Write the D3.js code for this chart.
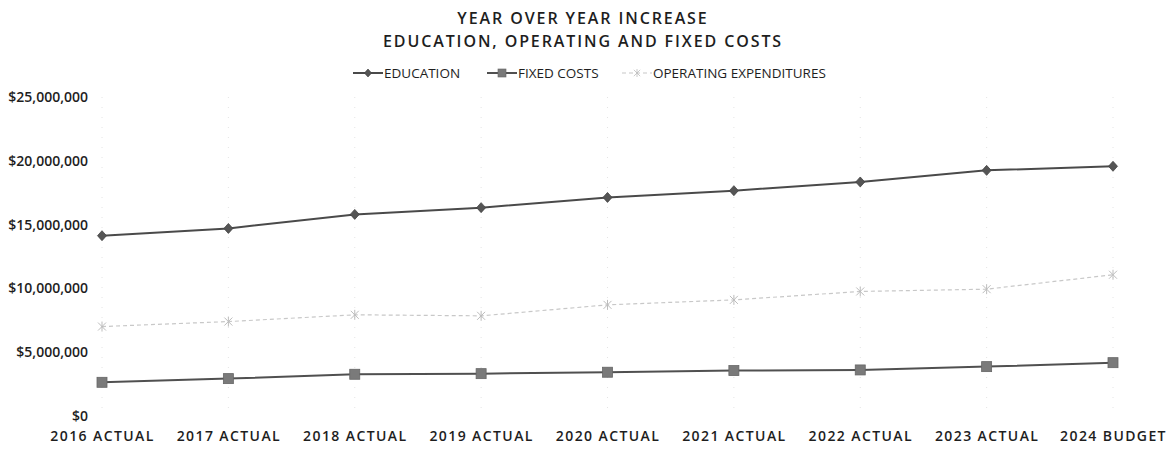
<!DOCTYPE html>
<html>
<head>
<meta charset="utf-8">
<script src="https://cdn.jsdelivr.net/npm/d3@7"></script>
<style>
  html, body { margin: 0; padding: 0; background: #fff; }
  svg { display: block; }
  text { font-family: "Open Sans", "Noto Sans", sans-serif; }
</style>
</head>
<body>
<svg id="chart" width="1173" height="449"></svg>
<script>
// Year labels along the bottom
const categories = ["2016 ACTUAL", "2017 ACTUAL", "2018 ACTUAL", "2019 ACTUAL", "2020 ACTUAL",
                    "2021 ACTUAL", "2022 ACTUAL", "2023 ACTUAL", "2024 BUDGET"];

// Spending per year, in dollars
const education = [14130000, 14700000, 15800000, 16330000, 17130000, 17660000, 18340000, 19250000, 19570000];
const fixedCosts = [2640000, 2930000, 3270000, 3320000, 3430000, 3560000, 3610000, 3870000, 4180000];
const operatingExpenditures = [7010000, 7400000, 7930000, 7850000, 8710000, 9100000, 9760000, 9940000, 11070000];

// Value axis ticks
const yTicks = [0, 5000000, 10000000, 15000000, 20000000, 25000000];

const titleLines = ["YEAR OVER YEAR INCREASE", "EDUCATION, OPERATING AND FIXED COSTS"];

const svg = d3.select("#chart");

const x = d3.scalePoint().domain(categories).range([102, 1113]);
const y = d3.scaleLinear().domain([0, 25000000]).range([416, 97]);

const fmt = v => "$" + d3.format(",")(v);

// Title
svg.append("g").selectAll("text")
  .data(titleLines)
  .join("text")
  .attr("x", 583)
  .attr("y", (d, i) => 24 + i * 22.5)
  .attr("text-anchor", "middle")
  .attr("font-size", 16)
  .attr("font-weight", 600)
  .attr("letter-spacing", 1.9)
  .attr("fill", "#1e1e1e")
  .text(d => d);

// Faint vertical guides at each category
svg.append("g").selectAll("line")
  .data(categories)
  .join("line")
  .attr("x1", d => x(d)).attr("x2", d => x(d))
  .attr("y1", 97).attr("y2", 416)
  .attr("stroke", "#e4e4e4")
  .attr("stroke-width", 1)
  .attr("stroke-dasharray", "1,9");

// Y axis labels
const yAxis = d3.axisLeft(y).tickValues(yTicks).tickFormat(fmt).tickSize(0).tickPadding(0);
const gy = svg.append("g").attr("transform", "translate(88,0)").call(yAxis);
gy.select(".domain").remove();
gy.selectAll("text")
  .attr("font-family", "\"Open Sans\", sans-serif")
  .attr("font-size", 14)
  .attr("font-weight", 600)
  .attr("fill", "#1e1e1e");

// X axis labels
const xAxis = d3.axisBottom(x).tickSize(0).tickPadding(0);
const gx = svg.append("g").attr("transform", "translate(0,431)").call(xAxis);
gx.select(".domain").remove();
gx.selectAll("text")
  .attr("font-family", "\"Open Sans\", sans-serif")
  .attr("font-size", 14)
  .attr("font-weight", 600)
  .attr("letter-spacing", 1.4)
  .attr("fill", "#1e1e1e");

// Series definitions
const series = [
  { name: "EDUCATION", values: education, stroke: "#4a4a4a", width: 2, dash: null, marker: "diamond", fill: "#555" },
  { name: "FIXED COSTS", values: fixedCosts, stroke: "#505050", width: 2, dash: null, marker: "square", fill: "#7a7a7a" },
  { name: "OPERATING EXPENDITURES", values: operatingExpenditures, stroke: "#c8c8c8", width: 1.2, dash: "4,3", marker: "star", fill: "#bdbdbd" }
];

const line = d3.line().x((d, i) => x(categories[i])).y(d => y(d));

function drawMarker(g, type, fill) {
  if (type === "diamond") {
    g.append("path").attr("d", "M0,-5L4.5,0L0,5L-4.5,0Z").attr("fill", fill).attr("stroke", "#444").attr("stroke-width", 0.8);
  } else if (type === "square") {
    g.append("rect").attr("x", -5).attr("y", -5).attr("width", 10).attr("height", 10)
      .attr("fill", fill).attr("stroke", "#666").attr("stroke-width", 0.8);
  } else {
    g.append("path").attr("d", "M-4,-4L4,4M-4,4L4,-4M0,-5L0,5")
      .attr("stroke", fill).attr("stroke-width", 1).attr("fill", "none");
  }
}

// Lines and markers (operating first so the darker series sit on top)
[series[2], series[1], series[0]].forEach(s => {
  svg.append("path")
    .datum(s.values)
    .attr("d", line)
    .attr("fill", "none")
    .attr("stroke", s.stroke)
    .attr("stroke-width", s.width)
    .attr("stroke-dasharray", s.dash);
  const mg = svg.append("g");
  s.values.forEach((v, i) => {
    const g = mg.append("g").attr("transform", `translate(${x(categories[i])},${y(v)})`);
    drawMarker(g, s.marker, s.fill);
  });
});

// Legend
const legendItems = [
  { s: series[0], x: 353 },
  { s: series[1], x: 487 },
  { s: series[2], x: 622 }
];
const lg = svg.append("g");
legendItems.forEach(item => {
  const g = lg.append("g").attr("transform", `translate(${item.x},73)`);
  g.append("line").attr("x1", 0).attr("x2", 30).attr("y1", 0).attr("y2", 0)
    .attr("stroke", item.s.stroke).attr("stroke-width", item.s.width)
    .attr("stroke-dasharray", item.s.dash);
  const m = g.append("g").attr("transform", "translate(15,0) scale(0.8)");
  drawMarker(m, item.s.marker, item.s.fill);
  g.append("text").attr("x", 31).attr("y", 5)
    .attr("font-size", 13.5)
    .attr("fill", "#1e1e1e")
    .text(item.s.name);
});
</script>
</body>
</html>
